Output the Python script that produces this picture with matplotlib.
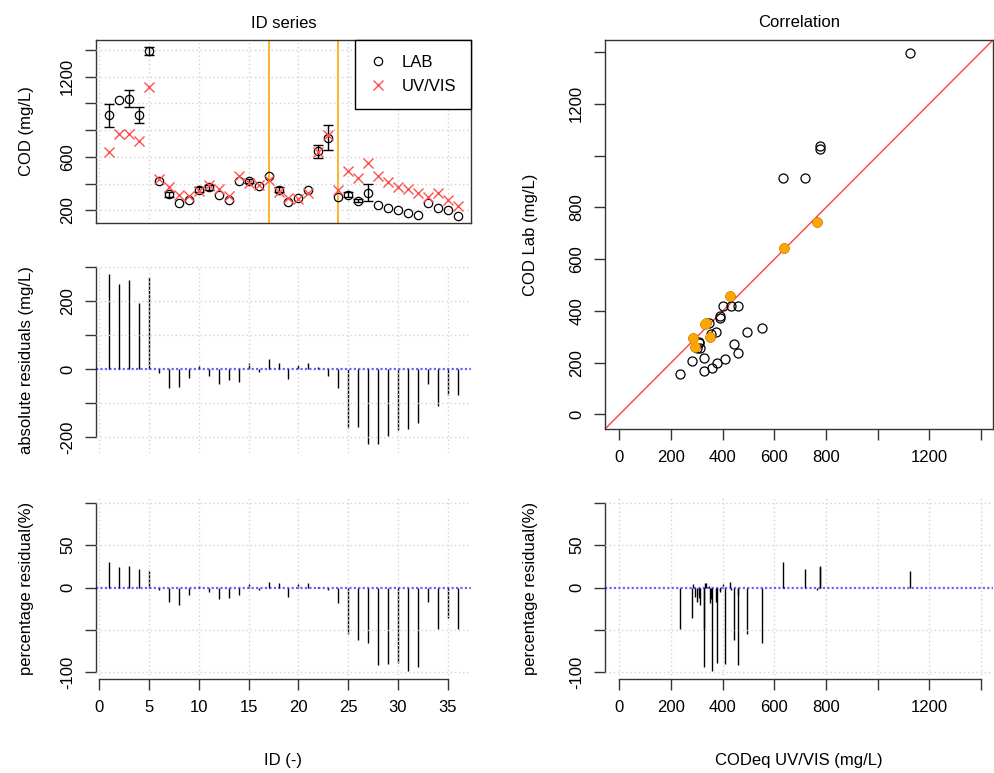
import matplotlib
matplotlib.use('Agg')
import matplotlib.pyplot as plt
import numpy as np

plt.rcParams['font.family'] = ['Liberation Sans', 'DejaVu Sans']
plt.rcParams['font.size'] = 12

# sample id, lab COD, UV/VIS COD equivalent, lab std (0 = no bar)
ids = np.arange(1, 37)
cod_lab = np.array([912, 1025, 1037, 912, 1395, 420, 320, 258, 280, 355,
                    372, 312, 275, 420, 420, 380, 457, 355, 262, 295,
                    350, 642, 745, 298, 318, 272, 333, 238, 215, 200,
                    180, 168, 255, 220, 205, 157])
cod_uv = np.array([633, 775, 775, 717, 1125, 432, 374, 311, 306, 347,
                   391, 356, 308, 458, 402, 389, 428, 336, 291, 283,
                   332, 636, 766, 352, 492, 442, 553, 457, 410, 378,
                   357, 326, 299, 328, 280, 233])
lab_err = np.array([85, 0, 60, 62, 30, 0, 20, 0, 0, 18,
                    18, 0, 0, 0, 18, 0, 0, 20, 0, 0,
                    0, 50, 95, 0, 18, 12, 65, 0, 0, 0,
                    0, 0, 0, 0, 0, 0])
val_start = 17
val_end = 24

resid = cod_lab - cod_uv
resid_pct = resid / cod_lab * 100
in_val = (ids >= val_start) & (ids <= val_end)
has_err = lab_err > 0

W, H = 995, 773
fig = plt.figure(figsize=(W / 100, H / 100), dpi=100)

AX = '#333333'
GRID = dict(color='#d3d3d3', ls=(0, (1, 2)), lw=1, zorder=3)
ZERO = dict(color='blue', ls=(0, (1, 1)), lw=1.6, alpha=0.6, zorder=4)


def box(x0, y0, x1, y1):
    return fig.add_axes([x0 / W, 1 - y1 / H, (x1 - x0) / W, (y1 - y0) / H])


def setup(ax, yticks, ylabels, xticks=None, xlabels=None, frame=False):
    for s in ax.spines.values():
        s.set_color(AX)
        s.set_linewidth(1)
        s.set_visible(frame)
    ax.spines['left'].set_visible(True)
    if not frame:
        ax.spines['left'].set_bounds(yticks[0], yticks[-1])
    ax.set_yticks(yticks)
    ax.set_yticklabels(ylabels, rotation=90, va='center')
    if xlabels is None:
        ax.set_xticks([])
    else:
        ax.set_xticks(xticks)
        ax.set_xticklabels(xlabels)
        ax.spines['bottom'].set_visible(True)
        if not frame:
            ax.spines['bottom'].set_bounds(xticks[0], xticks[-1])
    ax.tick_params(length=8, width=1, color=AX, pad=7, labelsize=12)


def grid(ax, xs, ys):
    for x in xs:
        ax.axvline(x, **GRID)
    for y in ys:
        ax.axhline(y, **GRID)


id_ticks = list(range(0, 36, 5))
cod_ticks = list(range(0, 1401, 200))
cod_labels = ['0', '200', '400', '600', '800', '', '1200', '']
pct_ticks = [-100, -50, 0, 50, 100]
pct_labels = ['-100', '', '0', '50', '']

# ID series
ax1 = box(96, 40, 471, 223)
ax1.set_xlim(-0.35, 37.35)
ax1.set_ylim(105, 1475)
grid(ax1, id_ticks, range(200, 1401, 200))
ax1.axvline(val_start, color='#FFA500', lw=1.2, zorder=2)
ax1.axvline(val_end, color='#FFA500', lw=1.2, zorder=2)
ax1.errorbar(ids[has_err], cod_lab[has_err], yerr=lab_err[has_err], fmt='none',
             ecolor='black', elinewidth=1, capsize=3.5, capthick=1, zorder=4)
ax1.plot(ids, cod_lab, 'o', mfc='none', mec='black', ms=6, mew=0.9, ls='none',
         label='LAB', zorder=5)
ax1.plot(ids, cod_uv, 'x', color='#ff5050', ms=7, mew=1, ls='none',
         label='UV/VIS', zorder=5)
setup(ax1, list(range(200, 1401, 200)), ['200', '', '600', '', '', '1200', ''], frame=True)
leg = ax1.legend(loc='upper right', fancybox=False, edgecolor='black', framealpha=1,
                 borderaxespad=0, handlelength=1.0, handletextpad=0.9, borderpad=0.9,
                 labelspacing=0.55)
leg.get_frame().set_linewidth(1)
ax1.set_title('ID series', fontsize=12, pad=9)

ax2 = box(96, 266, 471, 453)
ax2.set_xlim(-0.35, 37.35)
ax2.set_ylim(-246, 303)
grid(ax2, id_ticks, [-200, -100, 100, 200, 300])
ax2.axhline(0, **ZERO)
ax2.vlines(ids, 0, resid, color='black', lw=1, zorder=2)
setup(ax2, [-200, -100, 0, 100, 200, 300], ['-200', '', '0', '', '200', ''])

ax3 = box(96, 496, 471, 679)
ax3.set_xlim(-0.35, 37.35)
ax3.set_ylim(-108, 108)
grid(ax3, id_ticks, [-100, -50, 50, 100])
ax3.axhline(0, **ZERO)
ax3.vlines(ids, 0, resid_pct, color='black', lw=1, zorder=2)
setup(ax3, pct_ticks, pct_labels, id_ticks, [str(t) for t in id_ticks])

# Correlation
ax4 = box(605, 40, 993, 429)
ax4.set_xlim(-56, 1446)
ax4.set_ylim(-56, 1446)
ax4.axline((0, 0), slope=1, color='#ff4040', lw=1, zorder=2)
ax4.plot(cod_uv, cod_lab, 'o', mfc='none', mec='black', ms=6.5, mew=0.9, ls='none', zorder=3)
ax4.plot(cod_uv[in_val], cod_lab[in_val], 'o', color='#FFA500', ms=6.5, ls='none', zorder=4)
setup(ax4, cod_ticks, cod_labels, cod_ticks, cod_labels, frame=True)
ax4.set_title('Correlation', fontsize=12, pad=9)

ax5 = box(605, 496, 993, 679)
ax5.set_xlim(-56, 1446)
ax5.set_ylim(-108, 108)
grid(ax5, cod_ticks, [-100, -50, 50, 100])
ax5.axhline(0, **ZERO)
ax5.vlines(cod_uv, 0, resid_pct, color='black', lw=1, zorder=2)
setup(ax5, pct_ticks, pct_labels, cod_ticks, cod_labels)

fig.text(27 / W, 1 - 131 / H, 'COD (mg/L)', rotation=90, ha='center', va='center')
fig.text(27 / W, 1 - 360 / H, 'absolute residuals (mg/L)', rotation=90, ha='center', va='center')
fig.text(27 / W, 1 - 588 / H, 'percentage residual(%)', rotation=90, ha='center', va='center')
fig.text(283 / W, 1 - 760 / H, 'ID (-)', ha='center', va='center')
fig.text(531 / W, 1 - 235 / H, 'COD Lab (mg/L)', rotation=90, ha='center', va='center')
fig.text(531 / W, 1 - 588 / H, 'percentage residual(%)', rotation=90, ha='center', va='center')
fig.text(799 / W, 1 - 760 / H, 'CODeq UV/VIS (mg/L)', ha='center', va='center')

fig.savefig('out.png', dpi=100)
